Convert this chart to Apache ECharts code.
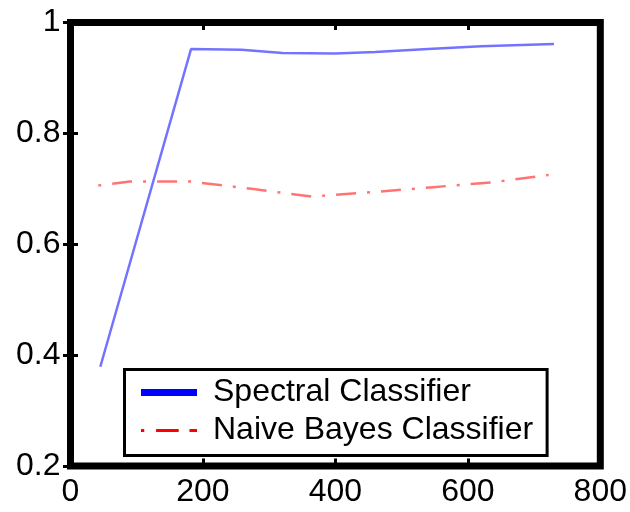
<!DOCTYPE html>
<html>
<head>
<meta charset="utf-8">
<script src="https://cdn.jsdelivr.net/npm/echarts@6/dist/echarts.min.js"></script>
<style>
html,body{margin:0;padding:0;background:#fff;}
#chart{width:630px;height:512px;}
</style>
</head>
<body>
<div id="chart"></div>
<script>
// ---- data ----
const seriesNames = ['Spectral Classifier', 'Naive Bayes Classifier'];
const spectralX = [45, 182, 258, 320, 400, 460, 540, 620, 730];
const spectralY = [0.379, 0.952, 0.951, 0.945, 0.944, 0.947, 0.952, 0.957, 0.961];
const bayesX = [42, 90, 182, 273, 365, 456, 548, 639, 722];
const bayesY = [0.706, 0.713, 0.713, 0.700, 0.686, 0.694, 0.703, 0.712, 0.725];
const xTicks = [0, 200, 400, 600, 800];
const yTicks = [0.2, 0.4, 0.6, 0.8, 1];

const FONT = "'Liberation Sans', Arial, Helvetica, sans-serif";
const pair = (xs, ys) => xs.map((x, i) => [x, ys[i]]);

const chart = echarts.init(document.getElementById('chart'), null, {renderer: 'canvas'});

const xMin = xTicks[0], xMax = xTicks[xTicks.length - 1], xStep = xTicks[1] - xTicks[0];
const yMin = yTicks[0], yMax = yTicks[yTicks.length - 1], yStep = 0.2;

const tickStyle = {show: true, inside: true, length: 7.5, lineStyle: {color: '#000', width: 3}};

chart.setOption({
  animation: false,
  backgroundColor: '#fff',
  grid: {
    left: 70.5, right: 29.5, top: 22.5, bottom: 46,
    show: true, borderColor: '#000', borderWidth: 7, backgroundColor: 'transparent'
  },
  xAxis: [{
    type: 'value', min: xMin, max: xMax, interval: xStep, position: 'bottom',
    axisLine: {show: false}, splitLine: {show: false},
    axisTick: tickStyle,
    axisLabel: {color: '#000', fontSize: 32, fontFamily: FONT, margin: 10}
  }, {
    type: 'value', min: xMin, max: xMax, interval: xStep, position: 'top',
    axisLine: {show: false}, splitLine: {show: false},
    axisTick: tickStyle, axisLabel: {show: false}
  }],
  yAxis: [{
    type: 'value', min: yMin, max: yMax, interval: yStep, position: 'left',
    axisLine: {show: false}, splitLine: {show: false},
    axisTick: tickStyle,
    axisLabel: {color: '#000', fontSize: 32, fontFamily: FONT, margin: 10}
  }, {
    type: 'value', min: yMin, max: yMax, interval: yStep, position: 'right',
    axisLine: {show: false}, splitLine: {show: false},
    axisTick: tickStyle, axisLabel: {show: false}
  }],
  legend: {
    orient: 'vertical',
    left: 124.5, top: 369.5,
    padding: [7, 14, 9, 16.5],
    itemGap: 6,
    itemWidth: 56, itemHeight: 7,
    symbolKeepAspect: true,
    borderColor: '#000', borderWidth: 3, borderRadius: 0,
    backgroundColor: '#fff',
    textStyle: {color: '#000', fontSize: 32, fontFamily: FONT, padding: [0, 0, 0, 11]},
    data: [
      {name: seriesNames[0], icon: 'path://M0,0h56v7h-56z', itemStyle: {color: '#0000ff', borderWidth: 0}},
      {name: seriesNames[1], icon: 'path://M0,0h3v3h-3zM14,0h21v3h-21zM45,0h7v3h-7z', itemStyle: {color: '#ff0000', borderWidth: 0}}
    ]
  },
  series: [{
    name: seriesNames[0], type: 'line', xAxisIndex: 0, yAxisIndex: 0,
    data: pair(spectralX, spectralY),
    showSymbol: false, symbol: 'none',
    color: '#0000ff',
    lineStyle: {color: 'rgba(0,0,255,0.55)', width: 2.5}
  }, {
    name: seriesNames[1], type: 'line', xAxisIndex: 0, yAxisIndex: 0,
    data: pair(bayesX, bayesY),
    showSymbol: false, symbol: 'none',
    color: '#ff0000',
    lineStyle: {color: 'rgba(255,0,0,0.55)', width: 2.5, type: [3, 11, 20, 11]}
  }]
});
</script>
</body>
</html>
